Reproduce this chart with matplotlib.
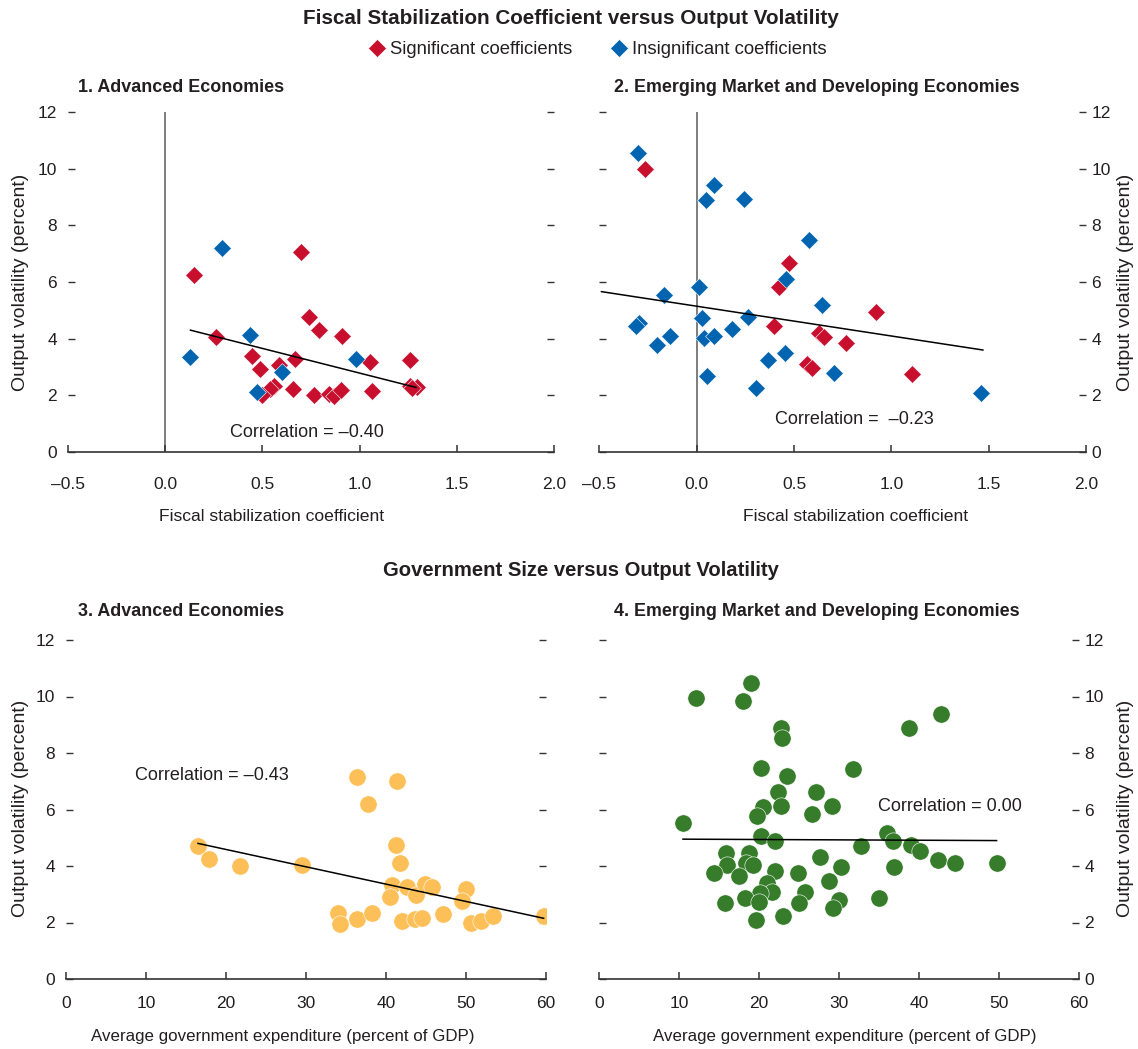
import matplotlib

matplotlib.use("Agg")
import matplotlib.pyplot as plt  # noqa: E402
from matplotlib.lines import Line2D  # noqa: E402

plt.rcParams["font.family"] = ["Liberation Sans", "DejaVu Sans"]

RED, BLUE, ORANGE, GREEN = "#C8102E", "#0064B0", "#FDBF57", "#367C2B"
INK, SPINE, ZERO = "#231F20", "#333333", "#5a5a5a"
W, H = 1138, 1049

# panel 1: advanced economies, stabilization coefficient vs volatility
adv_sig_x = [0.15, 0.70, 0.26, 0.74, 0.79, 0.91, 0.445, 0.49, 0.585, 0.67, 1.055,
             1.26, 0.56, 0.54, 0.50, 0.655, 0.765, 0.845, 0.87, 0.905, 1.065,
             1.26, 1.295, 1.27]
adv_sig_y = [6.23, 7.07, 4.06, 4.76, 4.32, 4.10, 3.39, 2.92, 3.06, 3.30, 3.16,
             3.24, 2.33, 2.24, 2.00, 2.22, 2.00, 2.04, 1.96, 2.19, 2.16,
             2.33, 2.28, 2.25]
adv_ins_x = [0.29, 0.13, 0.435, 0.98, 0.60, 0.47]
adv_ins_y = [7.20, 3.37, 4.13, 3.30, 2.81, 2.12]
adv_fit_x = [0.13, 1.29]
adv_fit_y = [4.30, 2.28]

# panel 2: emerging market and developing economies
eme_sig_x = [-0.265, 0.475, 0.42, 0.92, 0.395, 0.63, 0.655, 0.765, 0.565, 0.59, 1.105]
eme_sig_y = [9.99, 6.68, 5.83, 4.95, 4.45, 4.19, 4.07, 3.84, 3.12, 2.98, 2.75]
eme_ins_x = [-0.30, 0.087, 0.046, 0.243, 0.576, 0.46, 0.012, -0.17, 0.643, -0.297,
             -0.314, 0.029, 0.263, 0.181, 0.037, 0.087, -0.138, -0.204, 0.451,
             0.366, 0.703, 0.053, 0.303, 1.463]
eme_ins_y = [10.57, 9.44, 8.88, 8.94, 7.50, 6.09, 5.82, 5.54, 5.18, 4.57,
             4.45, 4.72, 4.78, 4.33, 4.04, 4.10, 4.10, 3.77, 3.51,
             3.25, 2.78, 2.69, 2.25, 2.08]
eme_fit_x = [-0.49, 1.47]
eme_fit_y = [5.66, 3.60]

# panel 3: advanced economies, government size vs volatility
adv_gov_x = [16.5, 17.9, 21.75, 29.5, 36.4, 41.4, 37.7, 41.25, 41.8, 40.8, 42.6,
             40.5, 43.75, 44.9, 45.7, 50.0, 49.5, 34.0, 34.2, 36.4, 38.2, 42.0,
             43.6, 44.5, 47.1, 50.6, 51.9, 53.4, 59.7]
adv_vol_y = [4.71, 4.24, 4.00, 4.04, 7.14, 7.02, 6.18, 4.74, 4.10, 3.33, 3.27,
             2.91, 2.97, 3.36, 3.25, 3.19, 2.77, 2.35, 1.95, 2.12, 2.33, 2.05,
             2.12, 2.17, 2.30, 1.97, 2.05, 2.24, 2.24]
adv_gfit_x = [16.5, 59.7]
adv_gfit_y = [4.80, 2.15]

# panel 4: emerging market and developing economies
eme_gov_x = [12.1, 18.96, 18.0, 22.8, 22.9, 38.8, 42.7, 20.2, 23.5, 31.8, 22.4,
             27.1, 20.5, 19.8, 22.75, 26.6, 29.1, 10.5, 20.3, 22.0, 32.8, 36.0,
             36.7, 39.0, 40.1, 42.4, 44.5, 36.9, 15.9, 18.7, 16.0, 18.4, 19.2,
             14.4, 17.5, 22.0, 27.6, 30.25, 24.9, 28.8, 21.0, 21.6, 20.1, 25.8,
             18.3, 20.0, 25.0, 30.0, 29.2, 35.0, 15.75, 19.6, 23.0, 49.7]
eme_vol_y = [9.94, 10.49, 9.84, 8.87, 8.54, 8.90, 9.38, 7.46, 7.19, 7.43, 6.63,
             6.63, 6.10, 5.77, 6.12, 5.84, 6.12, 5.51, 5.06, 4.90, 4.71, 5.18,
             4.90, 4.74, 4.53, 4.21, 4.12, 3.98, 4.47, 4.45, 4.04, 4.12, 4.04,
             3.76, 3.65, 3.83, 4.31, 3.98, 3.74, 3.48, 3.39, 3.09, 3.05, 3.09,
             2.88, 2.72, 2.68, 2.80, 2.50, 2.88, 2.68, 2.09, 2.24, 4.10]
eme_gfit_x = [10.5, 49.7]
eme_gfit_y = [4.95, 4.90]

coef_ticks = [-0.5, 0.0, 0.5, 1.0, 1.5, 2.0]
gov_ticks = [0, 10, 20, 30, 40, 50, 60]
vol_ticks = [0, 2, 4, 6, 8, 10, 12]

YLABEL = "Output volatility (percent)"
DIAMOND = dict(marker="D", s=82, edgecolors="white", linewidths=0.4, zorder=3)
DOT = dict(marker="o", s=155, edgecolors="white", linewidths=0.4, zorder=3)


def rect(l, t, r, b):
    return [l / W, 1 - b / H, (r - l) / W, (b - t) / H]


def style(ax, xticks, xfmt, label_right, xpad):
    ax.set_ylim(0, 12)
    ax.set_yticks(vol_ticks)
    ax.set_xticks(xticks)
    ax.set_xticklabels([xfmt.format(v).replace("-", "\u2013") for v in xticks])
    ax.set_xlim(xticks[0], xticks[-1])
    for s in ("top", "left", "right"):
        ax.spines[s].set_visible(False)
    ax.spines["bottom"].set_color(SPINE)
    ax.spines["bottom"].set_linewidth(1.2)
    ax.tick_params(axis="x", direction="in", length=5, width=1.1, color=SPINE,
                   pad=xpad, labelsize=12.5, labelcolor=INK)
    ax.tick_params(axis="y", direction="in", length=5, width=1.0, color=SPINE,
                   left=True, right=True, labelleft=not label_right,
                   labelright=label_right, pad=8 if not label_right else 4,
                   labelsize=12.5, labelcolor=INK)
    ax.patch.set_visible(False)


def ftext(x, y, s, **kw):
    fig.text(x / W, 1 - y / H, s, color=INK, **kw)


fig = plt.figure(figsize=(W / 100, H / 100), dpi=100)
ax1 = fig.add_axes(rect(68, 112, 554, 452))
ax2 = fig.add_axes(rect(599.5, 112, 1086, 452))
ax3 = fig.add_axes(rect(66, 640, 546, 979))
ax4 = fig.add_axes(rect(599, 640, 1079, 979))

for ax, sx, sy, ix, iy, fx, fy in [
        (ax1, adv_sig_x, adv_sig_y, adv_ins_x, adv_ins_y, adv_fit_x, adv_fit_y),
        (ax2, eme_sig_x, eme_sig_y, eme_ins_x, eme_ins_y, eme_fit_x, eme_fit_y)]:
    style(ax, coef_ticks, "{:.1f}", ax is ax2, 18)
    ax.axvline(0, ymin=0, ymax=1, color=ZERO, lw=1.1, zorder=1)
    ax.scatter(sx, sy, color=RED, **DIAMOND)
    ax.scatter(ix, iy, color=BLUE, **DIAMOND)
    ax.plot(fx, fy, color="black", lw=1.1, zorder=4)

for ax, gx, gy, color, fx, fy in [
        (ax3, adv_gov_x, adv_vol_y, ORANGE, adv_gfit_x, adv_gfit_y),
        (ax4, eme_gov_x, eme_vol_y, GREEN, eme_gfit_x, eme_gfit_y)]:
    style(ax, gov_ticks, "{:d}", ax is ax4, 12.5)
    ax.scatter(gx, gy, color=color, **DOT)
    ax.plot(fx, fy, color="black", lw=1.1, zorder=4)

corr = dict(fontsize=13, color=INK, ha="center", va="center", zorder=5)
ax1.text(0.73, 0.70, "Correlation = \u20130.40", **corr)
ax2.text(0.81, 1.13, "Correlation =  \u20130.23", **corr)
ax3.text(18.25, 7.19, "Correlation = \u20130.43", **corr)
ax4.text(43.9, 6.12, "Correlation = 0.00", **corr)

# titles and labels
ftext(571, 18, "Fiscal Stabilization Coefficient versus Output Volatility",
      fontsize=14.9, fontweight="bold", ha="center", va="center")
ftext(581, 571, "Government Size versus Output Volatility",
      fontsize=14.6, fontweight="bold", ha="center", va="center")
for x, y, s in [(78, 88, "1. Advanced Economies"),
                (614, 88, "2. Emerging Market and Developing Economies"),
                (78, 611, "3. Advanced Economies"),
                (614, 611, "4. Emerging Market and Developing Economies")]:
    ftext(x, y, s, fontsize=12.9, fontweight="bold", ha="left", va="center")
for x, y, s in [(272, 516, "Fiscal stabilization coefficient"),
                (856, 516, "Fiscal stabilization coefficient")]:
    ftext(x, y, s, fontsize=12.6, ha="center", va="center")
for x, y, s in [(283, 1037, "Average government expenditure (percent of GDP)"),
                (845, 1037, "Average government expenditure (percent of GDP)")]:
    ftext(x, y, s, fontsize=12.2, ha="center", va="center")
for x, y in [(21, 282), (21, 808), (1126, 282), (1126, 808)]:
    ftext(x, y, YLABEL, fontsize=14, ha="center", va="center", rotation=90)

handles = [Line2D([], [], marker="D", ls="none", color=c, ms=9, mec="white", mew=0.4)
           for c in (RED, BLUE)]
fig.legend(handles, ["Significant coefficients", "Insignificant coefficients"],
           loc="center", bbox_to_anchor=(598 / W, 1 - 50 / H), ncol=2,
           frameon=False, fontsize=13.3, handlelength=0.8, handletextpad=0.3,
           columnspacing=2.1, labelcolor=INK)

fig.savefig("out.png", dpi=100, facecolor="white")
